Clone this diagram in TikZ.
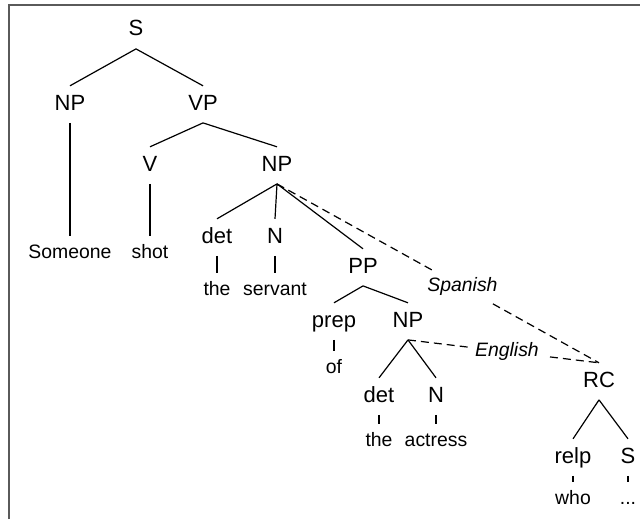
\documentclass[tikz,border=0pt]{standalone}
\usepackage{fontspec}
\setmainfont{Liberation Sans}
\usepackage{xcolor}
\definecolor{Frame}{HTML}{5A5A5A}
\tikzset{
 cat/.style={anchor=base, font=\fontsize{11}{13}\selectfont, inner xsep=1pt, inner ysep=4pt, text height=7.9pt, text depth=2.25pt},
 word/.style={anchor=base, font=\fontsize{9.7}{11.5}\selectfont, inner xsep=1pt, inner ysep=4pt, text height=7pt, text depth=2pt},
 branch/.style={draw=black, line width=0.6pt},
 attach/.style={draw=black, line width=0.6pt, dash pattern=on 4pt off 2.5pt},
 lang/.style={fill=white, inner sep=3.5pt, font=\fontsize{9.7}{11.5}\selectfont\itshape}
}

\begin{document}
\begin{tikzpicture}[x=0.5pt,y=-0.5pt]
\useasboundingbox (0,0) rectangle (640,519);
\draw[Frame, line width=0.8pt] (9,519) -- (9,5) -- (640,5);

\node[cat] (s) at (136,36) {S};
\node[cat] (np) at (70,110) {NP};
\node[cat] (vp) at (203,110) {VP};
\node[word] (someone) at (70,258) {Someone};
\node[cat] (v) at (150,171) {V};
\node[word] (shot) at (150,258) {shot};
\node[cat] (npo) at (277,171) {NP};
\node[cat] (deto) at (217,243) {det};
\node[cat] (no) at (275,243) {N};
\node[word] (theo) at (217,295) {the};
\node[word] (servant) at (275,295) {servant};
\node[cat] (pp) at (363,273) {PP};
\node[cat] (prep) at (334,327) {prep};
\node[cat] (npa) at (408,327) {NP};
\node[word] (of) at (334,373) {of};
\node[cat] (deta) at (379,402) {det};
\node[cat] (na) at (436,402) {N};
\node[word] (thea) at (379,446) {the};
\node[word] (actress) at (436,446) {actress};
\node[cat] (rc) at (599,387) {RC};
\node[cat] (relp) at (573,463) {relp};
\node[cat] (sub) at (628,463) {S};
\node[word] (who) at (573,504) {who};
\node[word] (rest) at (628,504) {...};

\draw[branch] (s.south) -- (np.north) (s.south) -- (vp.north);
\draw[branch] (np.south) -- (someone.north);
\draw[branch] (vp.south) -- (v.north) (vp.south) -- (npo.north);
\draw[branch] (v.south) -- (shot.north);
\draw[branch] (npo.south) -- (deto.north) (npo.south) -- (no.north) (npo.south) -- (pp.north);
\draw[branch] (deto.south) -- (theo.north) (no.south) -- (servant.north);
\draw[branch] (pp.south) -- (prep.north) (pp.south) -- (npa.north);
\draw[branch] (prep.south) -- (of.north);
\draw[branch] (npa.south) -- (deta.north) (npa.south) -- (na.north);
\draw[branch] (deta.south) -- (thea.north) (na.south) -- (actress.north);
\draw[branch] (rc.south) -- (relp.north) (rc.south) -- (sub.north);
\draw[branch] (relp.south) -- (who.north) (sub.south) -- (rest.north);

\draw[attach] (npo.south) -- node[lang, pos=0.576] {Spanish} (rc.north);
\draw[attach] (npa.south) -- node[lang, pos=0.518] {English} (rc.north);
\end{tikzpicture}
\end{document}
